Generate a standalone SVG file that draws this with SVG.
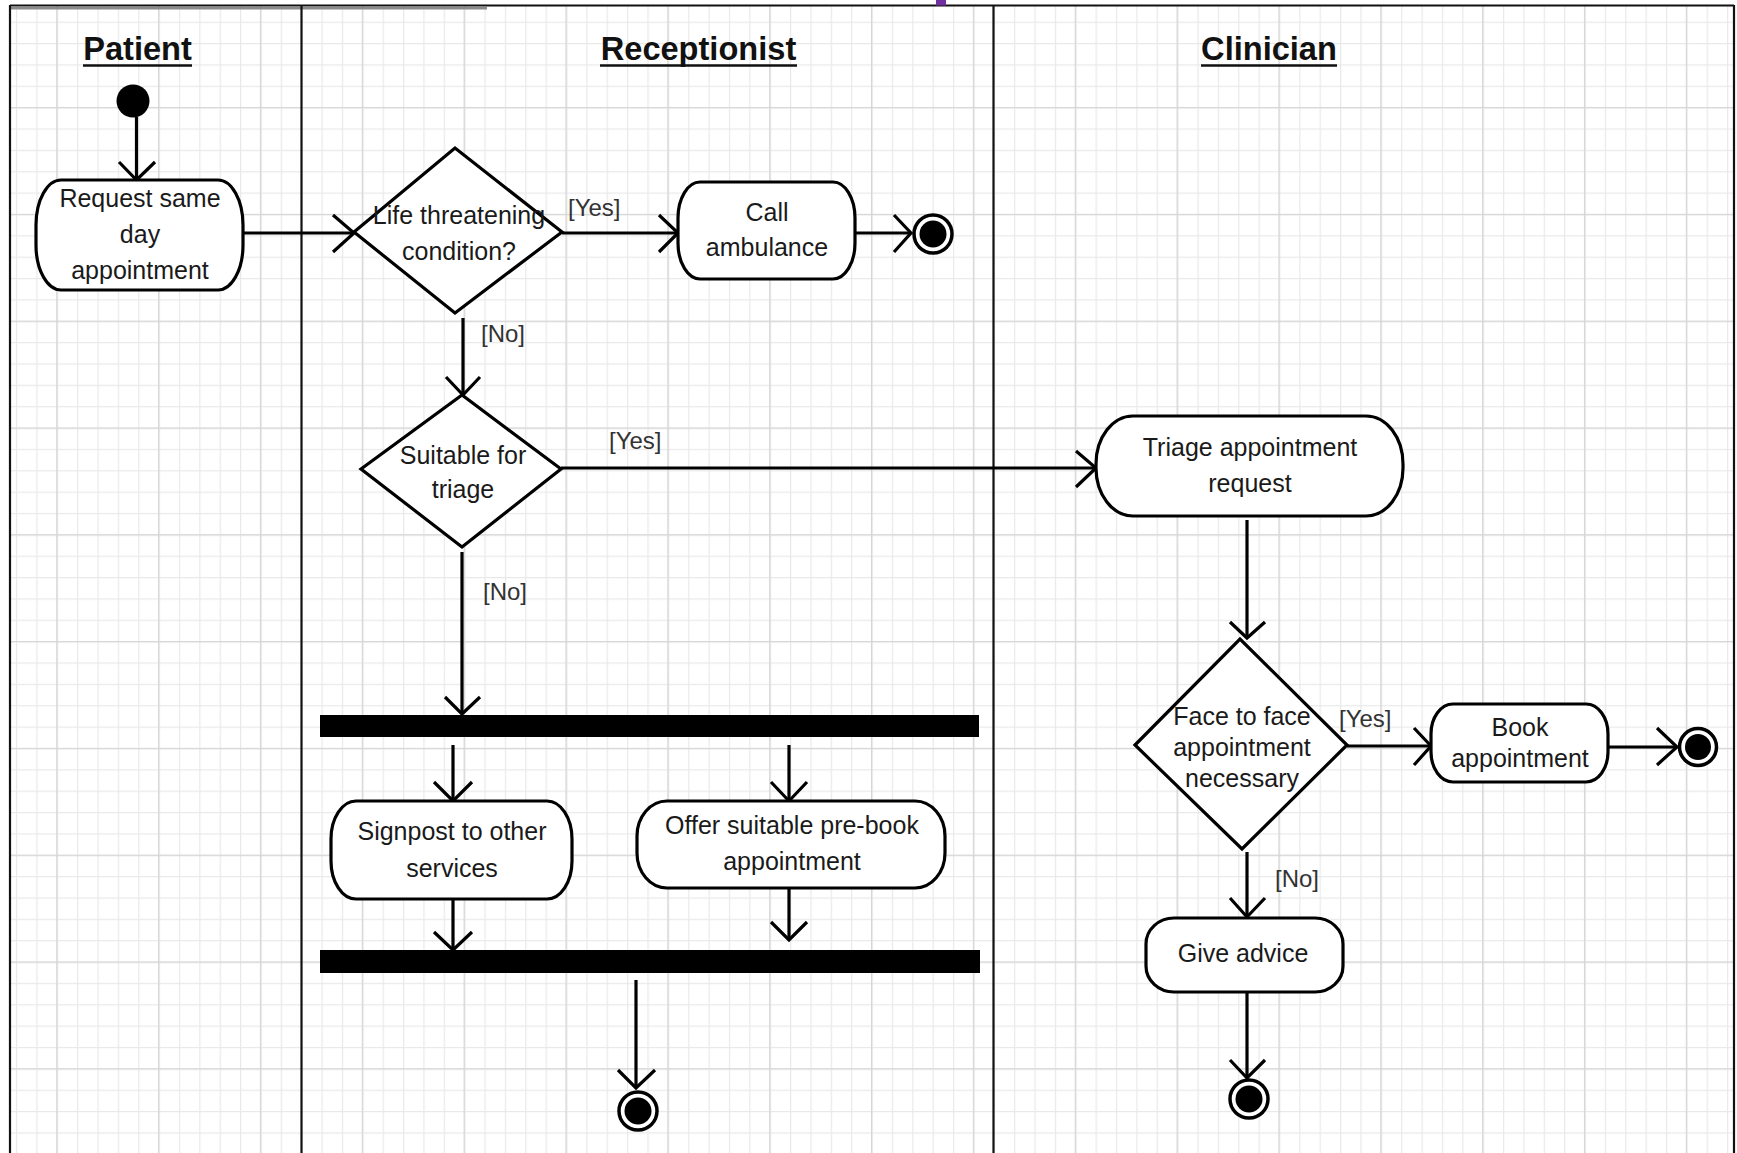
<svg xmlns="http://www.w3.org/2000/svg" width="1737" height="1153" viewBox="0 0 1737 1153">
<style>
.box{fill:#fff;stroke:#000;stroke-width:3.2}
.dia{fill:#fff;stroke:#000;stroke-width:3.2;stroke-linejoin:miter}
.t{font-family:"Liberation Sans",Arial,sans-serif;font-size:25px;fill:#1a1a1a;text-anchor:middle}
.lbl{font-family:"Liberation Sans",Arial,sans-serif;font-size:24px;fill:#333}
.hdr{font-family:"Liberation Sans",Arial,sans-serif;font-size:32.6px;font-weight:bold;fill:#111;text-anchor:middle}
.ul{stroke:#111;stroke-width:2.5}
.ln{fill:none;stroke:#000;stroke-width:3.2}
.hd{fill:none;stroke:#000;stroke-width:3.2;stroke-linejoin:miter}
.lane{stroke:#111;stroke-width:2.2}
.endo{fill:#fff;stroke:#000;stroke-width:3.5}
</style>
<defs>
<pattern id="minor" patternUnits="userSpaceOnUse" x="15.96" y="0.3" width="20.37" height="21.36">
<path d="M0.5 0V21.36M0 0.5H20.37" stroke="#e9e9e9" stroke-width="1.4" fill="none"/>
</pattern>
<pattern id="major" patternUnits="userSpaceOnUse" x="56.2" y="0.3" width="101.85" height="106.8">
<path d="M0.5 0V106.8M0 0.5H101.85" stroke="#d6d6d6" stroke-width="1.6" fill="none"/>
</pattern>
</defs>
<rect x="0" y="0" width="1737" height="1153" fill="#fff"/>
<g id="grid">
<rect x="10" y="6" width="1724" height="1147" fill="url(#minor)"/>
<rect x="10" y="6" width="1724" height="1147" fill="url(#major)"/>
</g>
<g id="lanes">
<line class="lane" x1="10" y1="5.5" x2="1734" y2="5.5"/>
<line x1="10" y1="8.2" x2="487" y2="8.2" stroke="#8a8a8a" stroke-width="2.6"/>
<line class="lane" x1="10" y1="5" x2="10" y2="1153"/>
<line class="lane" x1="301.5" y1="6" x2="301.5" y2="1153"/>
<line class="lane" x1="993.5" y1="6" x2="993.5" y2="1153"/>
<line class="lane" x1="1734" y1="5" x2="1734" y2="1153"/>
<rect x="936" y="0" width="10" height="5.5" fill="#7030a0"/>
</g>
<g id="headers">
<text class="hdr" x="137.5" y="60">Patient</text>
<line class="ul" x1="83" y1="65.5" x2="192" y2="65.5"/>
<text class="hdr" x="698.5" y="60">Receptionist</text>
<line class="ul" x1="600" y1="65.5" x2="797" y2="65.5"/>
<text class="hdr" x="1269" y="60">Clinician</text>
<line class="ul" x1="1201" y1="65.5" x2="1337" y2="65.5"/>
</g>
<g id="connectors">
<line class="ln" x1="136.5" y1="117" x2="136.5" y2="180"/>
<polyline class="hd" points="119,162 136.5,180 155,162"/>
<line class="ln" x1="243" y1="233" x2="354" y2="233"/>
<polyline class="hd" points="333,215 354,233 333,252"/>
<line class="ln" x1="562" y1="233" x2="678" y2="233"/>
<polyline class="hd" points="659,215 678,233 659,252"/>
<line class="ln" x1="855" y1="233" x2="911" y2="233"/>
<polyline class="hd" points="894,215 911,233 894,252"/>
<line class="ln" x1="463" y1="318" x2="463" y2="395"/>
<polyline class="hd" points="446,377 463,395 480,377"/>
<line class="ln" x1="561" y1="468" x2="1096" y2="468"/>
<polyline class="hd" points="1076,451 1096,468 1076,487"/>
<line class="ln" x1="462" y1="552" x2="462" y2="714"/>
<polyline class="hd" points="445,697 462,714 480,697"/>
<line class="ln" x1="453" y1="745" x2="453" y2="801"/>
<polyline class="hd" points="434,782 453,801 472,782"/>
<line class="ln" x1="789" y1="745" x2="789" y2="801"/>
<polyline class="hd" points="771,782 789,801 807,782"/>
<line class="ln" x1="453" y1="899" x2="453" y2="950"/>
<polyline class="hd" points="434,932 453,950 472,932"/>
<line class="ln" x1="789" y1="888" x2="789" y2="940"/>
<polyline class="hd" points="771,922 789,940 807,922"/>
<line class="ln" x1="636" y1="980" x2="636" y2="1088"/>
<polyline class="hd" points="618,1070 636,1088 655,1070"/>
<line class="ln" x1="1247" y1="520" x2="1247" y2="638"/>
<polyline class="hd" points="1230,622 1247,638 1265,622"/>
<line class="ln" x1="1347" y1="746" x2="1431" y2="746"/>
<polyline class="hd" points="1414,728 1431,746 1414,765"/>
<line class="ln" x1="1609" y1="747" x2="1677" y2="747"/>
<polyline class="hd" points="1657,728 1677,747 1657,765"/>
<line class="ln" x1="1247" y1="852" x2="1247" y2="918"/>
<polyline class="hd" points="1230,898 1247,917 1265,898"/>
<line class="ln" x1="1247" y1="992" x2="1247" y2="1078"/>
<polyline class="hd" points="1230,1060 1247,1078 1265,1060"/>
<text class="lbl" x="568" y="216">[Yes]</text>
<text class="lbl" x="481" y="342">[No]</text>
<text class="lbl" x="609" y="449">[Yes]</text>
<text class="lbl" x="483" y="600">[No]</text>
<text class="lbl" x="1339" y="727">[Yes]</text>
<text class="lbl" x="1275" y="887">[No]</text>
</g>
<g id="start">
<circle cx="133" cy="101" r="16.5" fill="#000"/>
</g>
<g id="request">
<rect class="box" x="36" y="180" width="207" height="110" rx="25" ry="45"/>
<text class="t" x="140" y="207">Request same</text>
<text class="t" x="140" y="243">day</text>
<text class="t" x="140" y="279">appointment</text>
</g>
<g id="life-threatening">
<polygon class="dia" points="354,232 455,148 562,232 455,313"/>
<text class="t" x="459" y="224">Life threatening</text>
<text class="t" x="459" y="260">condition?</text>
</g>
<g id="call-ambulance">
<rect class="box" x="678" y="182" width="177" height="97" rx="22" ry="36"/>
<text class="t" x="767" y="221">Call</text>
<text class="t" x="767" y="256">ambulance</text>
</g>
<g id="end1">
<circle class="endo" cx="933" cy="234" r="19"/>
<circle cx="933" cy="234" r="13.5" fill="#000"/>
</g>
<g id="suitable">
<polygon class="dia" points="361,469 462,395 561,469 462,547"/>
<text class="t" x="463" y="464">Suitable for</text>
<text class="t" x="463" y="498">triage</text>
</g>
<g id="fork1">
<rect x="320" y="715" width="659" height="22" fill="#000"/>
</g>
<g id="signpost">
<rect class="box" x="331" y="801" width="241" height="98" rx="25" ry="38"/>
<text class="t" x="452" y="840">Signpost to other</text>
<text class="t" x="452" y="877">services</text>
</g>
<g id="offer">
<rect class="box" x="637" y="801" width="308" height="87" rx="30" ry="35"/>
<text class="t" x="792" y="834">Offer suitable pre-book</text>
<text class="t" x="792" y="870">appointment</text>
</g>
<g id="fork2">
<rect x="320" y="950" width="660" height="23" fill="#000"/>
</g>
<g id="end3">
<circle class="endo" cx="638" cy="1111" r="19"/>
<circle cx="638" cy="1111" r="13.5" fill="#000"/>
</g>
<g id="triage">
<rect class="box" x="1096" y="416" width="307" height="100" rx="37" ry="48"/>
<text class="t" x="1250" y="456">Triage appointment</text>
<text class="t" x="1250" y="492">request</text>
</g>
<g id="face-to-face">
<polygon class="dia" points="1135,745 1240,639 1347,745 1242,849"/>
<text class="t" x="1242" y="725">Face to face</text>
<text class="t" x="1242" y="756">appointment</text>
<text class="t" x="1242" y="787">necessary</text>
</g>
<g id="book">
<rect class="box" x="1431" y="704" width="177" height="78" rx="22" ry="30"/>
<text class="t" x="1520" y="736">Book</text>
<text class="t" x="1520" y="767">appointment</text>
</g>
<g id="end2">
<circle class="endo" cx="1698" cy="747" r="18.5"/>
<circle cx="1698" cy="747" r="13" fill="#000"/>
</g>
<g id="give-advice">
<rect class="box" x="1146" y="918" width="197" height="74" rx="28" ry="26"/>
<text class="t" x="1243" y="962">Give advice</text>
</g>
<g id="end4">
<circle class="endo" cx="1249" cy="1099" r="19"/>
<circle cx="1249" cy="1099" r="13.5" fill="#000"/>
</g>
</svg>
